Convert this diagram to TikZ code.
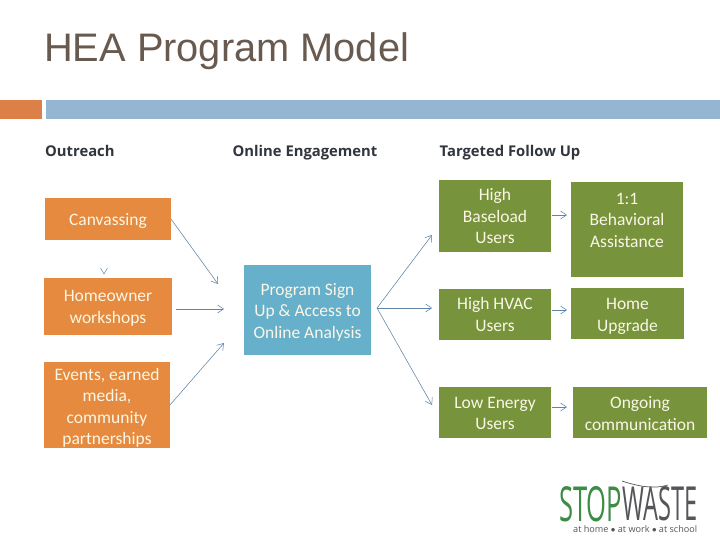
\documentclass[tikz,border=0pt]{standalone}
\usepackage{fontspec}
\usepackage{graphicx}
\setmainfont{Carlito}
\newfontfamily\titlefont{Liberation Sans}
\newfontfamily\headfont{Open Sans}
\usetikzlibrary{arrows.meta}
\definecolor{orangebox}{HTML}{E58A3E}
\definecolor{orangebar}{HTML}{DD8047}
\definecolor{bluebar}{HTML}{94B6D2}
\definecolor{greenbox}{HTML}{77933C}
\definecolor{tealbox}{HTML}{66B0CB}
\definecolor{titlecol}{HTML}{695A50}
\definecolor{headcol}{HTML}{30363C}
\definecolor{arrowcol}{HTML}{5F84A8}
\definecolor{logogreen}{HTML}{3C8C46}
\definecolor{logogray}{HTML}{55565A}
\definecolor{boxtext}{HTML}{FBF6E6}
\tikzset{
  box/.style={anchor=north west,inner sep=0pt,outer sep=0pt},
  boxlabel/.style={anchor=center,inner sep=0pt,align=center,text=boxtext,
    font=\fontsize{17.5}{21.5}\selectfont},
  head/.style={anchor=base west,inner sep=0pt,text=headcol,font=\fontsize{14.8}{17}\headfont\bfseries},
  flow/.style={draw=arrowcol,line width=0.55pt,-{Straight Barb[length=6pt,width=8pt,line width=0.55pt]}},
  bar/.style={anchor=north west,inner sep=0pt,outer sep=0pt},
}
\newcommand{\bx}[8]{%
  \node[box,fill=#6,minimum width=#3pt,minimum height=#4pt] (#7) at (#1,#2) {};
  \node[boxlabel] (#7text) at ([yshift=-#8pt]#7.center) {#5};}
\begin{document}
\begin{tikzpicture}[x=1pt,y=-1pt]
\useasboundingbox (0,0) rectangle (720,540);
\fill[white] (0,0) rectangle (720,540);
\node[anchor=base west,inner sep=0pt,text=titlecol,font=\fontsize{39.8}{44}\titlefont] (title) at (44,62) {HEA Program Model};
\node[bar,fill=orangebar,minimum width=42pt,minimum height=19pt] (barA) at (0,100) {};
\node[bar,fill=bluebar,minimum width=674pt,minimum height=19pt] (barB) at (46,100) {};
\node[head] (h1) at (45,157) {Outreach};
\node[head] (h2) at (232.5,157) {Online Engagement};
\node[head] (h3) at (439.5,156.5) {Targeted Follow Up};
\bx{45}{198}{126}{42}{Canvassing}{orangebox}{canv}{2}
\bx{44}{278}{128}{57}{Homeowner\\workshops}{orangebox}{work}{2}
\bx{44}{362}{126}{86}{Events, earned\\media,\\community\\partnerships}{orangebox}{events}{3}
\bx{244}{265}{127}{90}{Program Sign\\Up \& Access to\\Online Analysis}{tealbox}{prog}{2}
\bx{439}{180}{112}{72}{High\\Baseload\\Users}{greenbox}{base}{0.3}
\bx{439}{289}{112}{51}{High HVAC\\Users}{greenbox}{hvac}{0}
\bx{439}{387}{112}{51}{Low Energy\\Users}{greenbox}{low}{1}
\bx{571}{182}{112}{95}{1:1\\Behavioral\\Assistance}{greenbox}{beh}{-9.5}
\bx{571}{288}{113}{51}{Home\\Upgrade}{greenbox}{home}{3}
\bx{573}{387}{134}{51}{Ongoing\\communication}{greenbox}{ongo}{1}
% free ends
\coordinate (tA) at (218,284);
\coordinate (tB) at (224,309);
\coordinate (tC) at (224,343);
\coordinate (sB) at (176,309);
\coordinate (hub) at (377,308);
\coordinate (t1) at (432,235);
\coordinate (t2) at (432,308);
\coordinate (t3) at (432,405);
\draw[flow] (canv.east) -- (tA);
\draw[flow] (sB) -- (tB);
\draw[flow] (events.east) -- (tC);
\draw[flow] (hub) -- (t1);
\draw[flow] (hub) -- (t2);
\draw[flow] (hub) -- (t3);
\coordinate (a1s) at (552,215); \coordinate (a1e) at (567,215);
\coordinate (a2s) at (552,310); \coordinate (a2e) at (567,310);
\coordinate (a3s) at (552,407); \coordinate (a3e) at (567,407);
\draw[flow] (a1s) -- (a1e);
\draw[flow] (a2s) -- (a2e);
\draw[flow] (a3s) -- (a3e);
% stray arrow tip above Homeowner workshops
\coordinate (v1) at (100.5,268); \coordinate (v2) at (104,274); \coordinate (v3) at (107.5,268);
\draw[draw=arrowcol,line width=0.5pt] (v1) -- (v2) -- (v3);
% logo
\node[anchor=north west,inner sep=0pt,text=logogreen,font=\headfont] (stop) at (559,486) {\resizebox{63pt}{35pt}{STOP}};
\node[anchor=north west,inner sep=0pt,text=logogray,font=\headfont] (waste) at (622,486) {\resizebox{75pt}{34pt}{WASTE}};
\node[anchor=west,inner sep=0pt,text=logogray,font=\headfont] (tag) at (573,529.5) {\resizebox{124pt}{!}{at home $\bullet$ at work $\bullet$ at school}};
\draw[logogray,line width=0.7pt] (622,481) .. controls (640,487) and (655,489) .. (668,485);
\end{tikzpicture}
\end{document}
